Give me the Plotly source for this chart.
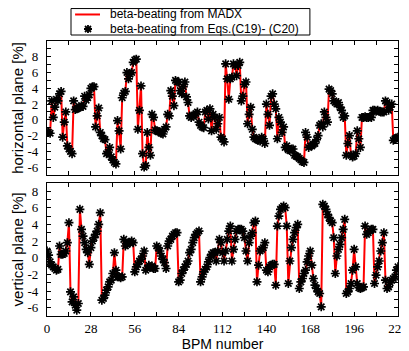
import plotly.graph_objects as go
from plotly.subplots import make_subplots

# BPM index, beta-beating values [%]
bpm = list(range(225))

horizontal = [
    -1.6, -1.6, -1.7, 2.4, 0.3, 1.6, 2.6, 2.4, 3.3, 3.6, -2.2, -0.3, 1.0, -3.3, -3.7,
    -4.0, -4.3, 2.4, 1.3, 1.4, 1.5, 1.6, 1.8, 1.7, 3.0, 2.5, 2.8, 3.2, 4.0, 4.2,
    4.2, -0.9, 0.5, 1.5, -1.6, -2.0, -2.4, -2.5, -4.3, -4.1, -3.5, -4.7, -5.1, -5.4, -5.6,
    -0.1, -1.4, -3.7, 2.8, 3.4, 3.6, 6.0, 5.2, 5.8, 6.0, 7.3, 7.6, 7.7, -1.2, 1.2,
    4.3, -4.3, -6.0, -5.8, -1.6, -3.5, -4.5, 0.7, 0.3, -1.3, -1.4, -1.5, -1.5, -1.7, -1.8,
    -1.2, -0.9, 0.7, 0.5, 3.7, 3.0, 1.8, 5.0, 4.8, 4.8, 3.7, 3.3, 4.2, 4.8, 2.9,
    2.2, 0.5, 0.3, 0.5, 0.6, 0.8, 1.0, -0.3, -0.7, -0.9, -1.0, 1.0, 1.2, 0.1, 1.4,
    -1.4, 0.7, 0.3, -1.2, -0.5, 0.3, -2.2, -2.4, -2.8, 7.1, 5.2, 2.6, 5.2, 5.4, 7.1,
    6.9, 5.6, 6.9, 7.3, 2.4, 3.0, 4.5, 4.8, -0.5, 0.7, 1.6, -1.2, -2.2, -2.4, -2.5,
    -2.6, -2.7, -2.2, -2.4, -3.0, 2.0, 0.7, -0.7, 3.0, 3.3, 2.0, 1.4, -2.4, 0.3, -0.3,
    -1.6, -0.9, -3.5, -3.3, -3.8, -3.9, -3.7, -3.7, -4.5, -4.6, -4.7, -4.9, -5.1, -5.3, -5.4,
    -1.6, -2.2, -3.5, -3.3, -3.3, -3.1, -3.0, -2.5, -2.0, -0.7, -0.5, -0.9, 1.0, 0.3, -0.3,
    3.9, 3.7, 3.3, 2.4, 2.2, 2.0, 2.2, 1.6, 1.2, 0.3, 0.5, -4.5, -3.0, -2.0, -4.5,
    -4.7, -4.6, -4.3, -1.4, -2.4, -3.5, 0.3, 0.3, 0.4, 0.3, 0.3, 0.4, 0.3, 1.2, 1.2,
    1.1, 1.2, 1.1, 1.0, 1.0, 1.0, 2.4, 2.2, 1.2, 1.6, 2.0, -2.6, -2.4, -2.3, -2.2,
]

vertical = [
    0.8, 0.3, -0.5, -0.9, -1.1, -1.3, -1.5, -1.4, 1.4, 0.4, 0.4, 0.5, 0.8, 1.8, 4.2,
    -4.1, -5.3, -4.7, -5.7, -6.3, -5.5, 5.8, 3.4, 2.6, 1.8, 1.0, 0.6, -0.8, 1.2, 2.0,
    2.4, 2.8, 3.2, 4.0, 5.4, -5.1, -4.9, -4.5, -3.9, -3.5, -2.9, -2.7, -1.9, 0.6, -1.5,
    -2.3, -2.3, -2.4, -2.3, 2.2, 1.4, 1.6, 1.8, 1.8, 2.0, 1.8, -1.7, -1.1, -0.8, -0.4,
    -0.2, 0.2, 0.8, -1.5, -1.3, -0.9, -1.1, -1.0, -1.3, -1.3, 1.4, 1.2, 0.8, 0.2, -0.2,
    -0.6, -1.3, 1.4, 2.0, 2.2, 2.6, 2.8, 3.0, 3.0, -2.9, -2.7, -1.9, -1.5, -1.1, -0.8,
    -0.4, 0.6, 1.0, 1.8, 2.4, 2.8, 3.0, 3.2, -2.9, -2.3, -1.7, -1.4, -1.1, -0.5, 0.0,
    0.4, 0.6, 0.6, -0.4, 0.8, 2.2, 1.8, 0.6, -0.4, 0.8, 2.2, 3.2, 3.8, -0.4, 1.0,
    2.2, 3.2, 3.4, 3.4, 3.4, 3.2, 2.4, 0.8, -0.4, 1.8, 2.6, 3.0, 4.2, 4.4, -2.9,
    -0.9, 0.8, 1.0, 1.2, 1.8, -1.5, -1.7, -1.1, -0.9, -0.8, -0.8, -3.3, 3.8, 5.0, 5.8,
    6.0, 6.2, 6.0, 3.8, -3.1, -0.4, 1.2, 2.2, 3.0, 3.6, 4.0, -3.7, -2.9, -2.5, -1.9,
    -1.5, -0.5, 0.2, 0.8, -0.9, -2.5, -3.3, -3.7, -4.1, -4.3, -5.9, 6.4, 6.2, 5.8, 5.2,
    4.8, 4.4, 4.2, 2.4, -1.9, 0.2, 1.0, 1.6, 2.4, 3.4, 4.6, -4.3, -4.1, -3.7, -3.1,
    -1.5, 1.0, -1.1, -3.1, -3.6, -3.7, -3.6, -3.5, 3.8, 2.8, 3.0, 3.2, 3.4, 3.4, -3.1,
    -2.1, -1.1, -0.4, 0.8, 1.8, 3.0, -2.7, -3.7, -3.5, -3.0, -2.7, -2.5, -2.3, -1.5, -1.1,
]

x_ticks = list(range(0, 225, 14))
x_labels = [str(v) if v % 28 == 0 else "" for v in x_ticks]
y_ticks = list(range(-7, 10))
y_labels = [str(v) if v % 2 == 0 else "" for v in y_ticks]

line_name = "beta-beating from MADX"
marker_name = "beta-beating from Eqs.(C19)- (C20)"

fig = make_subplots(rows=2, cols=1, shared_xaxes=True, vertical_spacing=0.03)

for row, vals in [(1, horizontal), (2, vertical)]:
    fig.add_trace(go.Scatter(x=bpm, y=vals, mode="lines",
                             line=dict(color="#ff0000", width=2),
                             name=line_name, showlegend=False), row=row, col=1)
    fig.add_trace(go.Scatter(x=bpm, y=vals, mode="markers",
                             marker=dict(symbol="asterisk-open", size=7.5, color="black",
                                         line=dict(color="black", width=1.7)),
                             name=marker_name, showlegend=False), row=row, col=1)

serif = "Liberation Serif"
sans = "Liberation Sans"

axis_style = dict(showline=True, linecolor="black", linewidth=1.2, mirror="allticks",
                  ticks="inside", ticklen=4, tickcolor="black", showgrid=False,
                  zeroline=False, tickfont=dict(family=serif, size=13, color="black"))

fig.update_xaxes(range=[0, 224], tickmode="array", tickvals=x_ticks, ticktext=x_labels,
                 ticklabelstandoff=0, **axis_style)
fig.update_xaxes(showticklabels=False, row=1, col=1)
fig.update_xaxes(title=dict(text="BPM number", standoff=0,
                            font=dict(family=sans, size=14, color="black")),
                 row=2, col=1)

fig.update_yaxes(tickmode="array", tickvals=y_ticks, ticktext=y_labels,
                 ticklabelstandoff=5, **axis_style)
fig.update_yaxes(range=[-7, 10], domain=[0.5127, 1.0], row=1, col=1,
                 title=dict(text="horizontal plane [%]", standoff=0,
                            font=dict(family=sans, size=15, color="black")))
fig.update_yaxes(range=[-7, 9], domain=[0.0, 0.4847], row=2, col=1,
                 title=dict(text="vertical plane [%]", standoff=0,
                            font=dict(family=sans, size=15, color="black")))

# legend box above the top panel (paper coordinates)
fig.add_shape(type="rect", xref="paper", yref="paper", x0=0.0684, x1=0.749,
              y0=1.0218, y1=1.118, line=dict(color="black", width=1), fillcolor="white")
fig.add_shape(type="line", xref="paper", yref="paper", x0=0.08, x1=0.151,
              y0=1.0964, y1=1.0964, line=dict(color="#ff0000", width=2))
fig.add_shape(type="path", xref="paper", yref="paper", xsizemode="pixel",
              ysizemode="pixel", xanchor=0.1168, yanchor=1.0436,
              path="M-4,0L4,0M0,-4L0,4M-3,-3L3,3M-3,3L3,-3",
              line=dict(color="black", width=1.8))
for text, ypos in [(line_name, 1.0964), (marker_name, 1.0436)]:
    fig.add_annotation(x=0.1738, y=ypos, xref="paper", yref="paper", text=text,
                       showarrow=False, xanchor="left", yanchor="middle",
                       font=dict(family=sans, size=12, color="black"))

fig.update_layout(
    width=409, height=351,
    margin=dict(l=39, r=19, t=33, b=43, autoexpand=False),
    paper_bgcolor="white", plot_bgcolor="white",
    font=dict(family=sans, color="black"),
    showlegend=False,
)

fig.write_html("out.html")
